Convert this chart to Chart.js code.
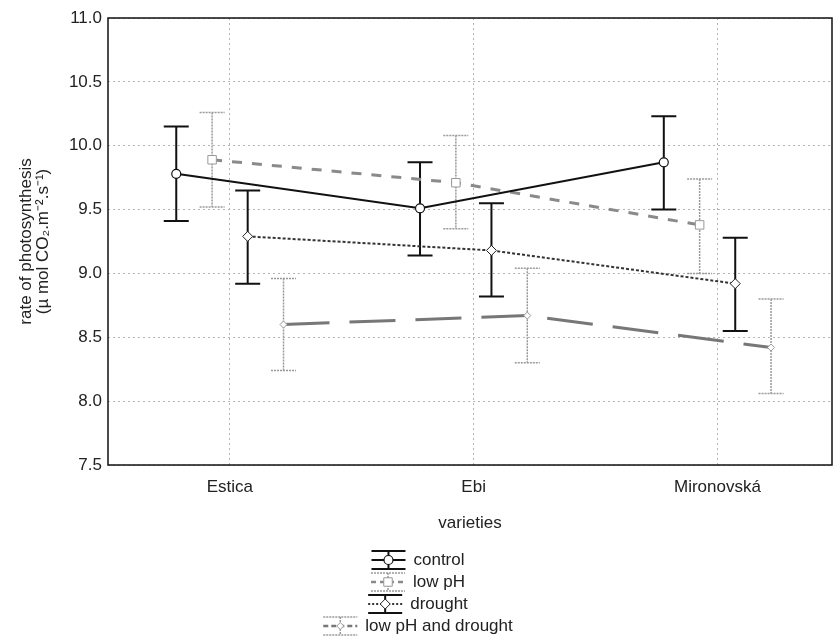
<!DOCTYPE html>
<html>
<head>
<meta charset="utf-8">
<script src="https://cdn.jsdelivr.net/npm/chart.js@4.4.1/dist/chart.umd.min.js"></script>
<style>
  body { margin: 0; background: #fff; }
  canvas { display: block; }
</style>
</head>
<body>
<canvas id="myChart" width="839" height="642"></canvas>
<script>
// data
const varieties = ['Estica', 'Ebi', 'Mironovská'];
const yTicks = [7.5, 8.0, 8.5, 9.0, 9.5, 10.0, 10.5, 11.0];
const seriesNames = ['control', 'low pH', 'drought', 'low pH and drought'];

const controlMean = [9.78, 9.51, 9.87];
const controlHigh = [10.15, 9.87, 10.23];
const controlLow = [9.41, 9.14, 9.50];

const lowPhMean = [9.89, 9.71, 9.38];
const lowPhHigh = [10.26, 10.08, 9.74];
const lowPhLow = [9.52, 9.35, 9.00];

const droughtMean = [9.29, 9.18, 8.92];
const droughtHigh = [9.65, 9.55, 9.28];
const droughtLow = [8.92, 8.82, 8.55];

const bothMean = [8.60, 8.67, 8.42];
const bothHigh = [8.96, 9.04, 8.80];
const bothLow = [8.24, 8.30, 8.06];

const FONT = '"Liberation Sans", Arial, sans-serif';
const TEXT = '#222';

// horizontal shift of each series inside a category
const shifts = [-0.22, -0.073, 0.073, 0.22];

function points(mean, high, low, k) {
    return mean.map((m, i) => ({ x: i + shifts[k], y: m, hi: high[i], lo: low[i] }));
}

const datasets = [
    {
        label: seriesNames[0],
        data: points(controlMean, controlHigh, controlLow, 0),
        borderColor: '#111', borderWidth: 2, borderDash: [], legendDash: [],
        pointStyle: 'circle', pointRadius: 4.5, pointBorderWidth: 1.2,
        pointBackgroundColor: '#fff', pointBorderColor: '#111',
        errColor: '#111', errWidth: 2, errDash: []
    },
    {
        label: seriesNames[1],
        data: points(lowPhMean, lowPhHigh, lowPhLow, 1),
        borderColor: '#8a8a8a', borderWidth: 3, borderDash: [10, 10], legendDash: [5, 4],
        pointStyle: 'rect', pointRadius: 6, pointBorderWidth: 1,
        pointBackgroundColor: '#fff', pointBorderColor: '#999',
        errColor: '#999', errWidth: 1.5, errDash: [2, 1]
    },
    {
        label: seriesNames[2],
        data: points(droughtMean, droughtHigh, droughtLow, 2),
        borderColor: '#333', borderWidth: 2, borderDash: [3, 2], legendDash: [2, 2],
        pointStyle: 'rectRot', pointRadius: 5, pointBorderWidth: 1,
        pointBackgroundColor: '#fff', pointBorderColor: '#222',
        errColor: '#111', errWidth: 2, errDash: []
    },
    {
        label: seriesNames[3],
        data: points(bothMean, bothHigh, bothLow, 3),
        borderColor: '#777', borderWidth: 3, borderDash: [46, 20], legendDash: [5, 3],
        pointStyle: 'rectRot', pointRadius: 3.5, pointBorderWidth: 1,
        pointBackgroundColor: '#fff', pointBorderColor: '#999',
        errColor: '#999', errWidth: 1.5, errDash: [2, 1]
    }
];

const CAP = 12.5;

const errorBars = {
    id: 'errorBars',
    beforeDatasetsDraw(chart) {
        const { ctx, scales: { x, y } } = chart;
        chart.data.datasets.forEach((ds) => {
            ctx.save();
            ctx.strokeStyle = ds.errColor;
            ctx.lineWidth = ds.errWidth;
            ctx.setLineDash(ds.errDash);
            ds.data.forEach((p) => {
                const px = x.getPixelForValue(p.x);
                const top = y.getPixelForValue(p.hi);
                const bot = y.getPixelForValue(p.lo);
                ctx.beginPath();
                ctx.moveTo(px, top); ctx.lineTo(px, bot);
                ctx.moveTo(px - CAP, top); ctx.lineTo(px + CAP, top);
                ctx.moveTo(px - CAP, bot); ctx.lineTo(px + CAP, bot);
                ctx.stroke();
            });
            ctx.restore();
        });
    }
};

const frame = {
    id: 'frame',
    beforeDatasetsDraw(chart) {
        const { ctx, chartArea: a } = chart;
        ctx.save();
        ctx.strokeStyle = '#111';
        ctx.lineWidth = 1.5;
        ctx.strokeRect(a.left, a.top, a.right - a.left, a.bottom - a.top);
        ctx.restore();
    }
};

// Statistica style legend, one row per series, below the axis title
const legendRows = {
    id: 'legendRows',
    afterDraw(chart) {
        const ctx = chart.ctx;
        ctx.save();
        ctx.font = '17px ' + FONT;
        ctx.textBaseline = 'middle';
        chart.data.datasets.forEach((ds, i) => {
            const yy = 560 + i * 22;
            const tw = ctx.measureText(ds.label).width;
            const x0 = 418 - (34 + 8 + tw) / 2;
            const cx = x0 + 17;
            ctx.strokeStyle = ds.errColor;
            ctx.lineWidth = ds.errWidth;
            ctx.setLineDash(ds.errDash);
            ctx.beginPath();
            ctx.moveTo(x0, yy - 9); ctx.lineTo(x0 + 34, yy - 9);
            ctx.moveTo(x0, yy + 9); ctx.lineTo(x0 + 34, yy + 9);
            ctx.moveTo(cx, yy - 9); ctx.lineTo(cx, yy + 9);
            ctx.stroke();
            ctx.strokeStyle = ds.borderColor;
            ctx.lineWidth = Math.min(ds.borderWidth, 2.5);
            ctx.setLineDash(ds.legendDash);
            ctx.beginPath();
            ctx.moveTo(x0, yy); ctx.lineTo(x0 + 34, yy);
            ctx.stroke();
            ctx.setLineDash([]);
            ctx.fillStyle = ds.pointBackgroundColor;
            ctx.strokeStyle = ds.pointBorderColor;
            ctx.lineWidth = ds.pointBorderWidth;
            Chart.helpers.drawPoint(ctx, {
                pointStyle: ds.pointStyle, radius: ds.pointRadius,
                borderWidth: ds.pointBorderWidth, rotation: 0
            }, cx, yy);
            ctx.fillStyle = TEXT;
            ctx.fillText(ds.label, x0 + 42, yy);
        });
        ctx.restore();
    }
};

const gridStyle = {
    color: '#b4b4b4',
    lineWidth: 1,
    drawTicks: false
};

new Chart(document.getElementById('myChart').getContext('2d'), {
    type: 'line',
    data: { datasets: datasets },
    options: {
        responsive: false,
        animation: false,
        events: [],
        layout: { padding: { left: 0, right: 1, top: 18, bottom: 100 } },
        plugins: { legend: { display: false }, tooltip: { enabled: false } },
        scales: {
            x: {
                type: 'linear',
                min: -0.5,
                max: 2.47,
                afterBuildTicks: (s) => { s.ticks = varieties.map((v, i) => ({ value: i })); },
                afterFit: (s) => { s.height = 77; },
                grid: gridStyle,
                border: { display: false, dash: [2, 3] },
                ticks: {
                    padding: 12,
                    color: TEXT,
                    font: { family: FONT, size: 17 },
                    callback: (v) => varieties[v]
                },
                title: {
                    display: true,
                    text: 'varieties',
                    color: TEXT,
                    font: { family: FONT, size: 17, lineHeight: 1 },
                    padding: { top: 0, bottom: 10.5 }
                }
            },
            y: {
                min: 7.5,
                max: 11,
                afterBuildTicks: (s) => { s.ticks = yTicks.map((v) => ({ value: v })); },
                afterFit: (s) => { s.width = 108; },
                grid: gridStyle,
                border: { display: false, dash: [2, 3] },
                ticks: {
                    padding: 6,
                    color: TEXT,
                    font: { family: FONT, size: 17 },
                    callback: (v) => v.toFixed(1)
                },
                title: {
                    display: true,
                    text: ['rate of photosynthesis', '(\u00b5 mol CO\u2082.m\u207b\u00b2.s\u207b\u00b9)'],
                    color: TEXT,
                    font: { family: FONT, size: 17, lineHeight: 1 },
                    padding: { top: 17.5, bottom: 0 }
                }
            }
        }
    },
    plugins: [frame, errorBars, legendRows]
});
</script>
</body>
</html>
